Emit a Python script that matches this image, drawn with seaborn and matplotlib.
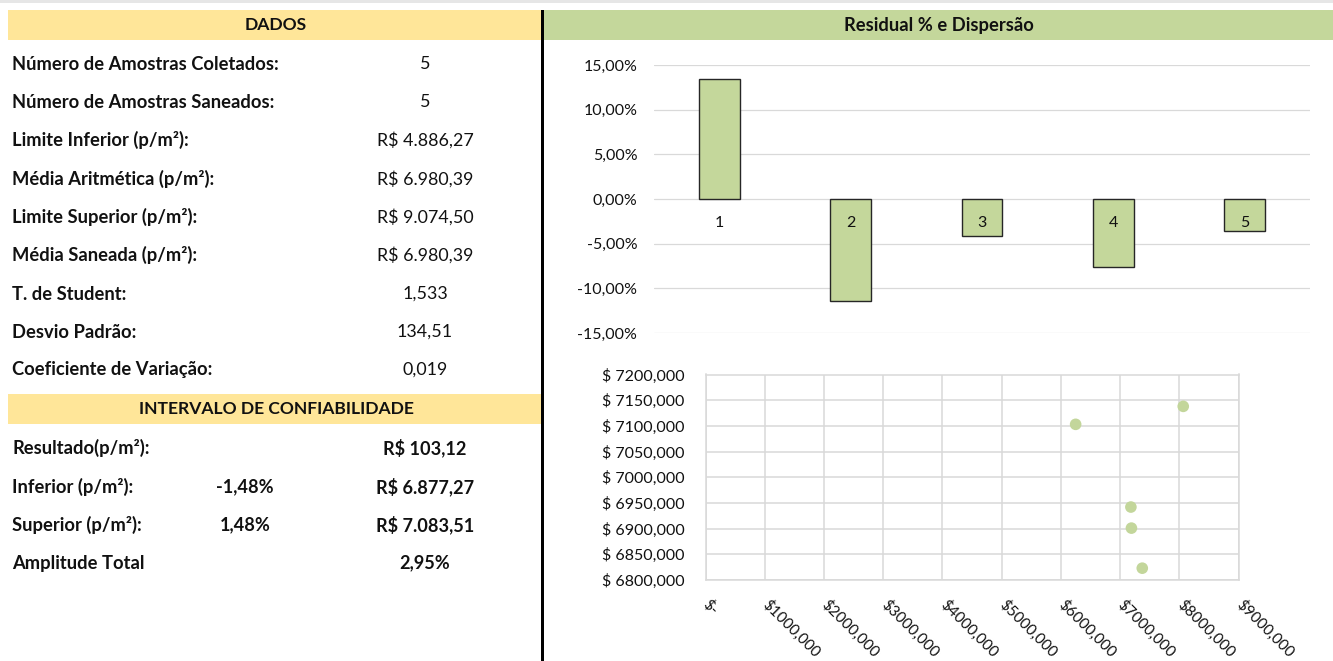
import matplotlib
matplotlib.use('Agg')
import matplotlib.pyplot as plt
from matplotlib.patches import Rectangle
from matplotlib.transforms import ScaledTranslation
import seaborn as sns
import pandas as pd

# ---- data ----
dados_labels = ['Número de Amostras Coletados:', 'Número de Amostras Saneados:',
                'Limite Inferior (p/m²):', 'Média Aritmética (p/m²):',
                'Limite Superior (p/m²):', 'Média Saneada (p/m²):',
                'T. de Student:', 'Desvio Padrão:', 'Coeficiente de Variação:']
dados_values = ['5', '5', 'R$ 4.886,27', 'R$ 6.980,39', 'R$ 9.074,50',
                'R$ 6.980,39', '1,533', '134,51', '0,019']

intervalo_labels = ['Resultado(p/m²):', 'Inferior (p/m²):', 'Superior (p/m²):', 'Amplitude Total']
intervalo_pct = ['', '-1,48%', '1,48%', '']
intervalo_values = ['R$ 103,12', 'R$ 6.877,27', 'R$ 7.083,51', '2,95%']

amostras = ['1', '2', '3', '4', '5']
residual_pct = [13.4, -11.46, -4.18, -7.61, -3.58]

disp_x = [6250, 8067, 7183, 7192, 7375]
disp_y = [7103, 7138, 6942, 6901, 6823]

bar_ticks = [-15, -10, -5, 0, 5, 10, 15]
disp_yticks = [6800, 6850, 6900, 6950, 7000, 7050, 7100, 7150, 7200]
disp_xticks = [0, 1000, 2000, 3000, 4000, 5000, 6000, 7000, 8000, 9000]

# ---- style ----
sns.set_style('white')
plt.rcParams['font.family'] = ['Lato', 'DejaVu Sans']
yellow = '#ffe699'
green = '#c4d79b'
grid_c = '#d9d9d9'
txt = '#111111'

W, H = 1333, 661
fig = plt.figure(figsize=(W / 100, H / 100), dpi=100)


def box(l, t, r, b):
    return [l / W, 1 - b / H, (r - l) / W, (b - t) / H]


# background layer in pixel coordinates
bg = fig.add_axes([0, 0, 1, 1], zorder=0)
bg.set_xlim(0, W)
bg.set_ylim(H, 0)
bg.axis('off')
bg.add_patch(Rectangle((0, 0), W, 2.7, color='#e6e6e6', lw=0))
bg.add_patch(Rectangle((8, 10), 533, 29.5, color=yellow, lw=0))
bg.add_patch(Rectangle((8, 394), 533, 29.5, color=yellow, lw=0))
bg.add_patch(Rectangle((544, 10), W - 544, 29.5, color=green, lw=0))
bg.add_patch(Rectangle((541, 10), 3, H - 10, color='black', lw=0))

lab_fs = 13.2
head_fs = 12.6
val_fs = 12.9
bval_fs = 13.1

bg.text(276, 25, 'DADOS', ha='center', va='center', fontsize=head_fs, fontweight='bold', color=txt)
bg.text(939, 25, 'Residual % e Dispersão', ha='center', va='center', fontsize=lab_fs,
        fontweight='bold', color=txt)
bg.text(276, 409, 'INTERVALO DE CONFIABILIDADE', ha='center', va='center', fontsize=head_fs,
        fontweight='bold', color=txt)

dados_y = [64, 102, 140, 179, 217, 255, 294, 332, 370]
for lab, val, y in zip(dados_labels, dados_values, dados_y):
    bg.text(12, y, lab, ha='left', va='center', fontsize=lab_fs, fontweight='bold', color=txt)
    bg.text(425, y, val, ha='center', va='center', fontsize=val_fs, color=txt)

int_y = [448, 487, 525, 563]
for lab, pct, val, y in zip(intervalo_labels, intervalo_pct, intervalo_values, int_y):
    bg.text(12, y, lab, ha='left', va='center', fontsize=lab_fs, fontweight='bold', color=txt)
    bg.text(245, y, pct, ha='center', va='center', fontsize=bval_fs, fontweight='bold', color=txt)
    bg.text(425, y, val, ha='center', va='center', fontsize=bval_fs, fontweight='bold', color=txt)

# ---- residual bar chart ----
ax1 = fig.add_axes(box(654, 65, 1310, 333), zorder=1)
ax1.patch.set_alpha(0)
df_res = pd.DataFrame({'amostra': amostras, 'residual': residual_pct})
sns.barplot(data=df_res, x='amostra', y='residual', order=amostras, color=green,
            saturation=1, width=0.31, edgecolor='#262626', linewidth=1, ax=ax1)
ax1.set_xlim(-0.5, 4.5)
ax1.set_ylim(-15, 15)
ax1.set_yticks(bar_ticks)
ax1.set_yticklabels([f'{v:.2f}%'.replace('.', ',') for v in bar_ticks])
ax1.set_axisbelow(True)
ax1.grid(axis='y', color=grid_c, lw=0.9)
ax1.grid(axis='x', visible=False)
ax1.set_xticks([])
ax1.set_xlabel('')
ax1.set_ylabel('')
ax1.tick_params(axis='y', length=0, pad=12, labelsize=11.5, labelcolor=txt)
for s in ax1.spines.values():
    s.set_visible(False)
for i, lab in enumerate(amostras):
    ax1.text(i, -2.65, lab, ha='center', va='center', fontsize=11.5, color=txt, zorder=5)

# ---- dispersion scatter ----
ax2 = fig.add_axes(box(705.5, 374.5, 1238.5, 580), zorder=1)
ax2.patch.set_alpha(0)
df_disp = pd.DataFrame({'x': disp_x, 'y': disp_y})
sns.scatterplot(data=df_disp, x='x', y='y', color='#c3d69b', s=70, edgecolor='none',
                ax=ax2, zorder=3)
ax2.set_xlim(0, 9000)
ax2.set_ylim(6800, 7200)
ax2.set_xticks(disp_xticks)
ax2.set_xticklabels(['$-' if v == 0 else f'${v:.3f}'.replace('.', ',') for v in disp_xticks],
                    rotation=-45, ha='left', va='top')
ax2.set_yticks(disp_yticks)
ax2.set_yticklabels([f'$ {v:.3f}'.replace('.', ',') for v in disp_yticks])
ax2.set_axisbelow(True)
ax2.grid(True, color=grid_c, lw=1.1)
ax2.set_xlabel('')
ax2.set_ylabel('')
ax2.tick_params(axis='x', length=0, pad=12, labelsize=11.0, labelcolor=txt)
ax2.tick_params(axis='y', length=0, pad=15, labelsize=11.5, labelcolor=txt)
# nudge the slanted labels a little to the left, like Excel draws them
shift = ScaledTranslation(-5 / 100, 0, fig.dpi_scale_trans)
for lbl in ax2.get_xticklabels():
    lbl.set_transform(lbl.get_transform() + shift)
for s in ax2.spines.values():
    s.set_color(grid_c)
    s.set_linewidth(1.1)

fig.savefig('out.png', dpi=100)
